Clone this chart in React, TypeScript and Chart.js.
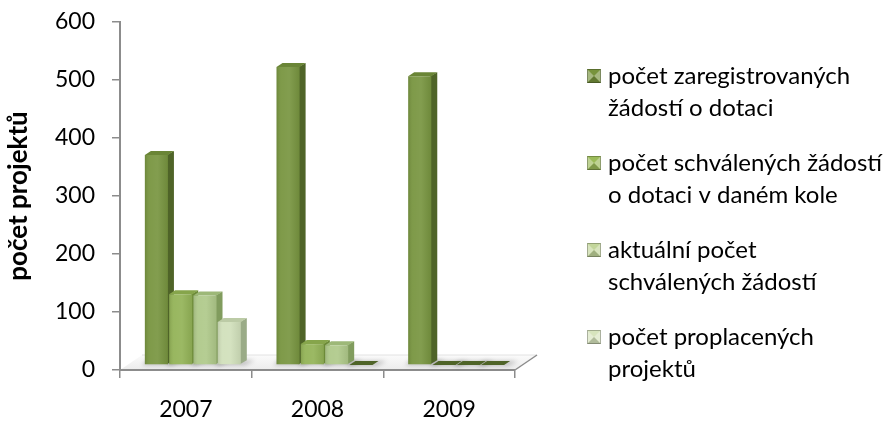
import React, { useEffect, useRef } from 'react';
import { Chart, registerables } from 'chart.js';

Chart.register(...registerables);

// ---- data ----
const categories = ['2007', '2008', '2009'];
const registered = [362, 514, 498];
const approvedInRound = [122, 36, 0];
const approvedCurrent = [120, 34, 0];
const paid = [74, 0, 0];
const seriesLabels = [
  ['počet zaregistrovaných', 'žádostí o dotaci'],
  ['počet schválených žádostí', 'o dotaci v daném kole'],
  ['aktuální počet', 'schválených žádostí'],
  ['počet proplacených', 'projektů'],
];
const yMin = 0;
const yMax = 600;
const yStep = 100;
const yTitle = 'počet projektů';

// ---- styles ----
const FONT = 'Lato';
const frontColors = ['#789540', '#93B357', '#AFC98A', '#D1E0BB'];
const sideColors = ['#4F6428', '#6C8A38', '#819C5E', '#9AAB87'];
const capColors = ['#6A8536', '#86A54B', '#9DB878', '#BCCBA6'];
const legendColors = ['#77933C', '#9BBB59', '#C3D69B', '#D7E4BD'];
const AXIS = '#8c8c8c';
const DX = 7, DY = -5, SIDE = 6, CAP = 4;
const FLOOR_DX = 22, FLOOR_DY = -15;

const threeD = {
  id: 'threeD',
  beforeDraw(chart: any) {
    const { ctx, chartArea } = chart;
    const { left, right, bottom } = chartArea;
    ctx.save();
    const g = ctx.createLinearGradient(0, bottom + FLOOR_DY, 0, bottom);
    g.addColorStop(0, '#fbfbfb');
    g.addColorStop(1, '#ececec');
    ctx.fillStyle = g;
    ctx.beginPath();
    ctx.moveTo(left, bottom);
    ctx.lineTo(right, bottom);
    ctx.lineTo(right + FLOOR_DX, bottom + FLOOR_DY);
    ctx.lineTo(left + FLOOR_DX, bottom + FLOOR_DY);
    ctx.closePath();
    ctx.fill();
    ctx.strokeStyle = '#e2e2e2';
    ctx.lineWidth = 1;
    ctx.beginPath();
    ctx.moveTo(left + FLOOR_DX, bottom + FLOOR_DY);
    ctx.lineTo(right + FLOOR_DX, bottom + FLOOR_DY);
    ctx.stroke();
    ctx.strokeStyle = AXIS;
    ctx.lineWidth = 1.5;
    ctx.beginPath();
    ctx.moveTo(right, bottom);
    ctx.lineTo(right + FLOOR_DX, bottom + FLOOR_DY);
    ctx.stroke();
    ctx.restore();
  },
  beforeDatasetsDraw(chart: any) {
    const ctx = chart.ctx;
    ctx.save();
    ctx.translate(DX, DY);
    chart.data.datasets.forEach((_ds: any, di: number) => {
      const meta = chart.getDatasetMeta(di);
      meta.data.forEach((bar: any) => {
        const { x, base, width } = bar.getProps(['x', 'base', 'width'], true);
        const r = x + width / 2;
        const l = x - width / 2;
        ctx.save();
        ctx.filter = 'blur(2px)';
        ctx.fillStyle = 'rgba(0,0,0,0.22)';
        ctx.beginPath();
        ctx.moveTo(l - 3, base + 1);
        ctx.lineTo(r + 4, base + 1);
        ctx.lineTo(r + SIDE + 8, base - CAP);
        ctx.lineTo(l + 2, base - CAP);
        ctx.closePath();
        ctx.fill();
        ctx.restore();
      });
    });
    chart.data.datasets.forEach((_ds: any, di: number) => {
      const meta = chart.getDatasetMeta(di);
      meta.data.forEach((bar: any) => {
        const { x, y, base, width } = bar.getProps(['x', 'y', 'base', 'width'], true);
        const l = x - width / 2;
        const r = x + width / 2;
        const h = base - y;
        if (h > 0.5) {
          ctx.fillStyle = sideColors[di];
          ctx.beginPath();
          ctx.moveTo(r - 1, y);
          ctx.lineTo(r + SIDE, y - CAP);
          ctx.lineTo(r + SIDE, base - CAP);
          ctx.lineTo(r - 1, base);
          ctx.closePath();
          ctx.fill();
        }
        ctx.fillStyle = h > 0.5 ? capColors[di] : sideColors[0];
        ctx.beginPath();
        ctx.moveTo(l, y);
        ctx.lineTo(l + SIDE, y - CAP);
        ctx.lineTo(r + SIDE, y - CAP);
        ctx.lineTo(r, y);
        ctx.closePath();
        ctx.fill();
      });
    });
  },
  afterDatasetsDraw(chart: any) {
    const ctx = chart.ctx;
    chart.data.datasets.forEach((_ds: any, di: number) => {
      const meta = chart.getDatasetMeta(di);
      meta.data.forEach((bar: any) => {
        const { x, y, base, width } = bar.getProps(['x', 'y', 'base', 'width'], true);
        const l = x - width / 2;
        const h = base - y;
        if (h <= 0.5) return;
        const g = ctx.createLinearGradient(l, 0, l + width, 0);
        g.addColorStop(0, 'rgba(0,0,0,0.10)');
        g.addColorStop(0.2, 'rgba(255,255,255,0.05)');
        g.addColorStop(0.55, 'rgba(255,255,255,0.08)');
        g.addColorStop(1, 'rgba(0,0,0,0.08)');
        ctx.fillStyle = g;
        ctx.fillRect(l, y, width, h);
      });
    });
    ctx.restore();
  },
};

const legendPlugin = {
  id: 'sideLegend',
  afterDraw(chart: any) {
    const ctx = chart.ctx;
    const boxX = 587, box = 14, textX = 608, y0 = 76, step = 87, lineH = 32;
    ctx.save();
    ctx.font = `24px ${FONT}`;
    ctx.textBaseline = 'middle';
    ctx.textAlign = 'left';
    seriesLabels.forEach((lines, i) => {
      const cy = y0 + i * step;
      const bx = boxX, by = cy - box / 2;
      ctx.fillStyle = legendColors[i];
      ctx.fillRect(bx, by, box, box);
      const cx = bx + box / 2, ccy = by + box / 2;
      ctx.fillStyle = 'rgba(255,255,255,0.35)';
      ctx.beginPath(); ctx.moveTo(bx, by); ctx.lineTo(cx, ccy); ctx.lineTo(bx, by + box); ctx.closePath(); ctx.fill();
      ctx.beginPath(); ctx.moveTo(bx + box, by); ctx.lineTo(cx, ccy); ctx.lineTo(bx + box, by + box); ctx.closePath(); ctx.fill();
      ctx.fillStyle = 'rgba(0,0,0,0.18)';
      ctx.beginPath(); ctx.moveTo(bx, by + box); ctx.lineTo(cx, ccy); ctx.lineTo(bx + box, by + box); ctx.closePath(); ctx.fill();
      ctx.strokeStyle = 'rgba(0,0,0,0.25)';
      ctx.lineWidth = 1;
      ctx.strokeRect(bx + 0.5, by + 0.5, box - 1, box - 1);
      ctx.fillStyle = '#000';
      lines.forEach((t, li) => ctx.fillText(t, textX, cy + li * lineH));
    });
    ctx.restore();
  },
};

export default function App() {
  const ref = useRef<HTMLCanvasElement | null>(null);
  useEffect(() => {
    if (!ref.current) return;
    const series = [registered, approvedInRound, approvedCurrent, paid];
    const chart = new Chart(ref.current, {
      type: 'bar',
      data: {
        labels: categories,
        datasets: series.map((d, i) => ({
          label: seriesLabels[i].join(' '),
          data: d,
          backgroundColor: frontColors[i],
          borderWidth: 0,
          barPercentage: 0.95,
          categoryPercentage: 0.738,
        })),
      },
      options: {
        responsive: false,
        animation: false,
        layout: { padding: { left: 0, right: 376, top: 22, bottom: 0 } },
        plugins: { legend: { display: false }, tooltip: { enabled: false } },
        scales: {
          x: {
            offset: true,
            grid: { offset: true, drawOnChartArea: false, tickLength: 8, color: AXIS, lineWidth: 1.5 },
            border: { color: AXIS, width: 2 },
            ticks: { color: '#000', font: { family: FONT, size: 23 }, padding: 18 },
            afterFit: (s: any) => { s.height = 51; },
          },
          y: {
            min: yMin,
            max: yMax,
            grid: { drawOnChartArea: false, tickLength: 8, color: AXIS, lineWidth: 1.5 },
            border: { color: AXIS, width: 2 },
            ticks: { stepSize: yStep, color: '#000', font: { family: FONT, size: 23 }, padding: 17 },
            title: {
              display: true,
              text: yTitle,
              color: '#000',
              font: { family: FONT, size: 26, weight: 'bold' },
              padding: { top: 3, bottom: 0 },
            },
            afterFit: (s: any) => { s.width = 120; s.paddingTop = 0; s.paddingBottom = 0; },
          },
        },
      },
      plugins: [threeD, legendPlugin],
    });
    return () => chart.destroy();
  }, []);
  return (
    <div style={{ position: 'fixed', left: 0, top: 0, width: 891, height: 421, background: '#fff' }}>
      <canvas ref={ref} width={891} height={421} style={{ width: 891, height: 421, display: 'block' }} />
    </div>
  );
}
